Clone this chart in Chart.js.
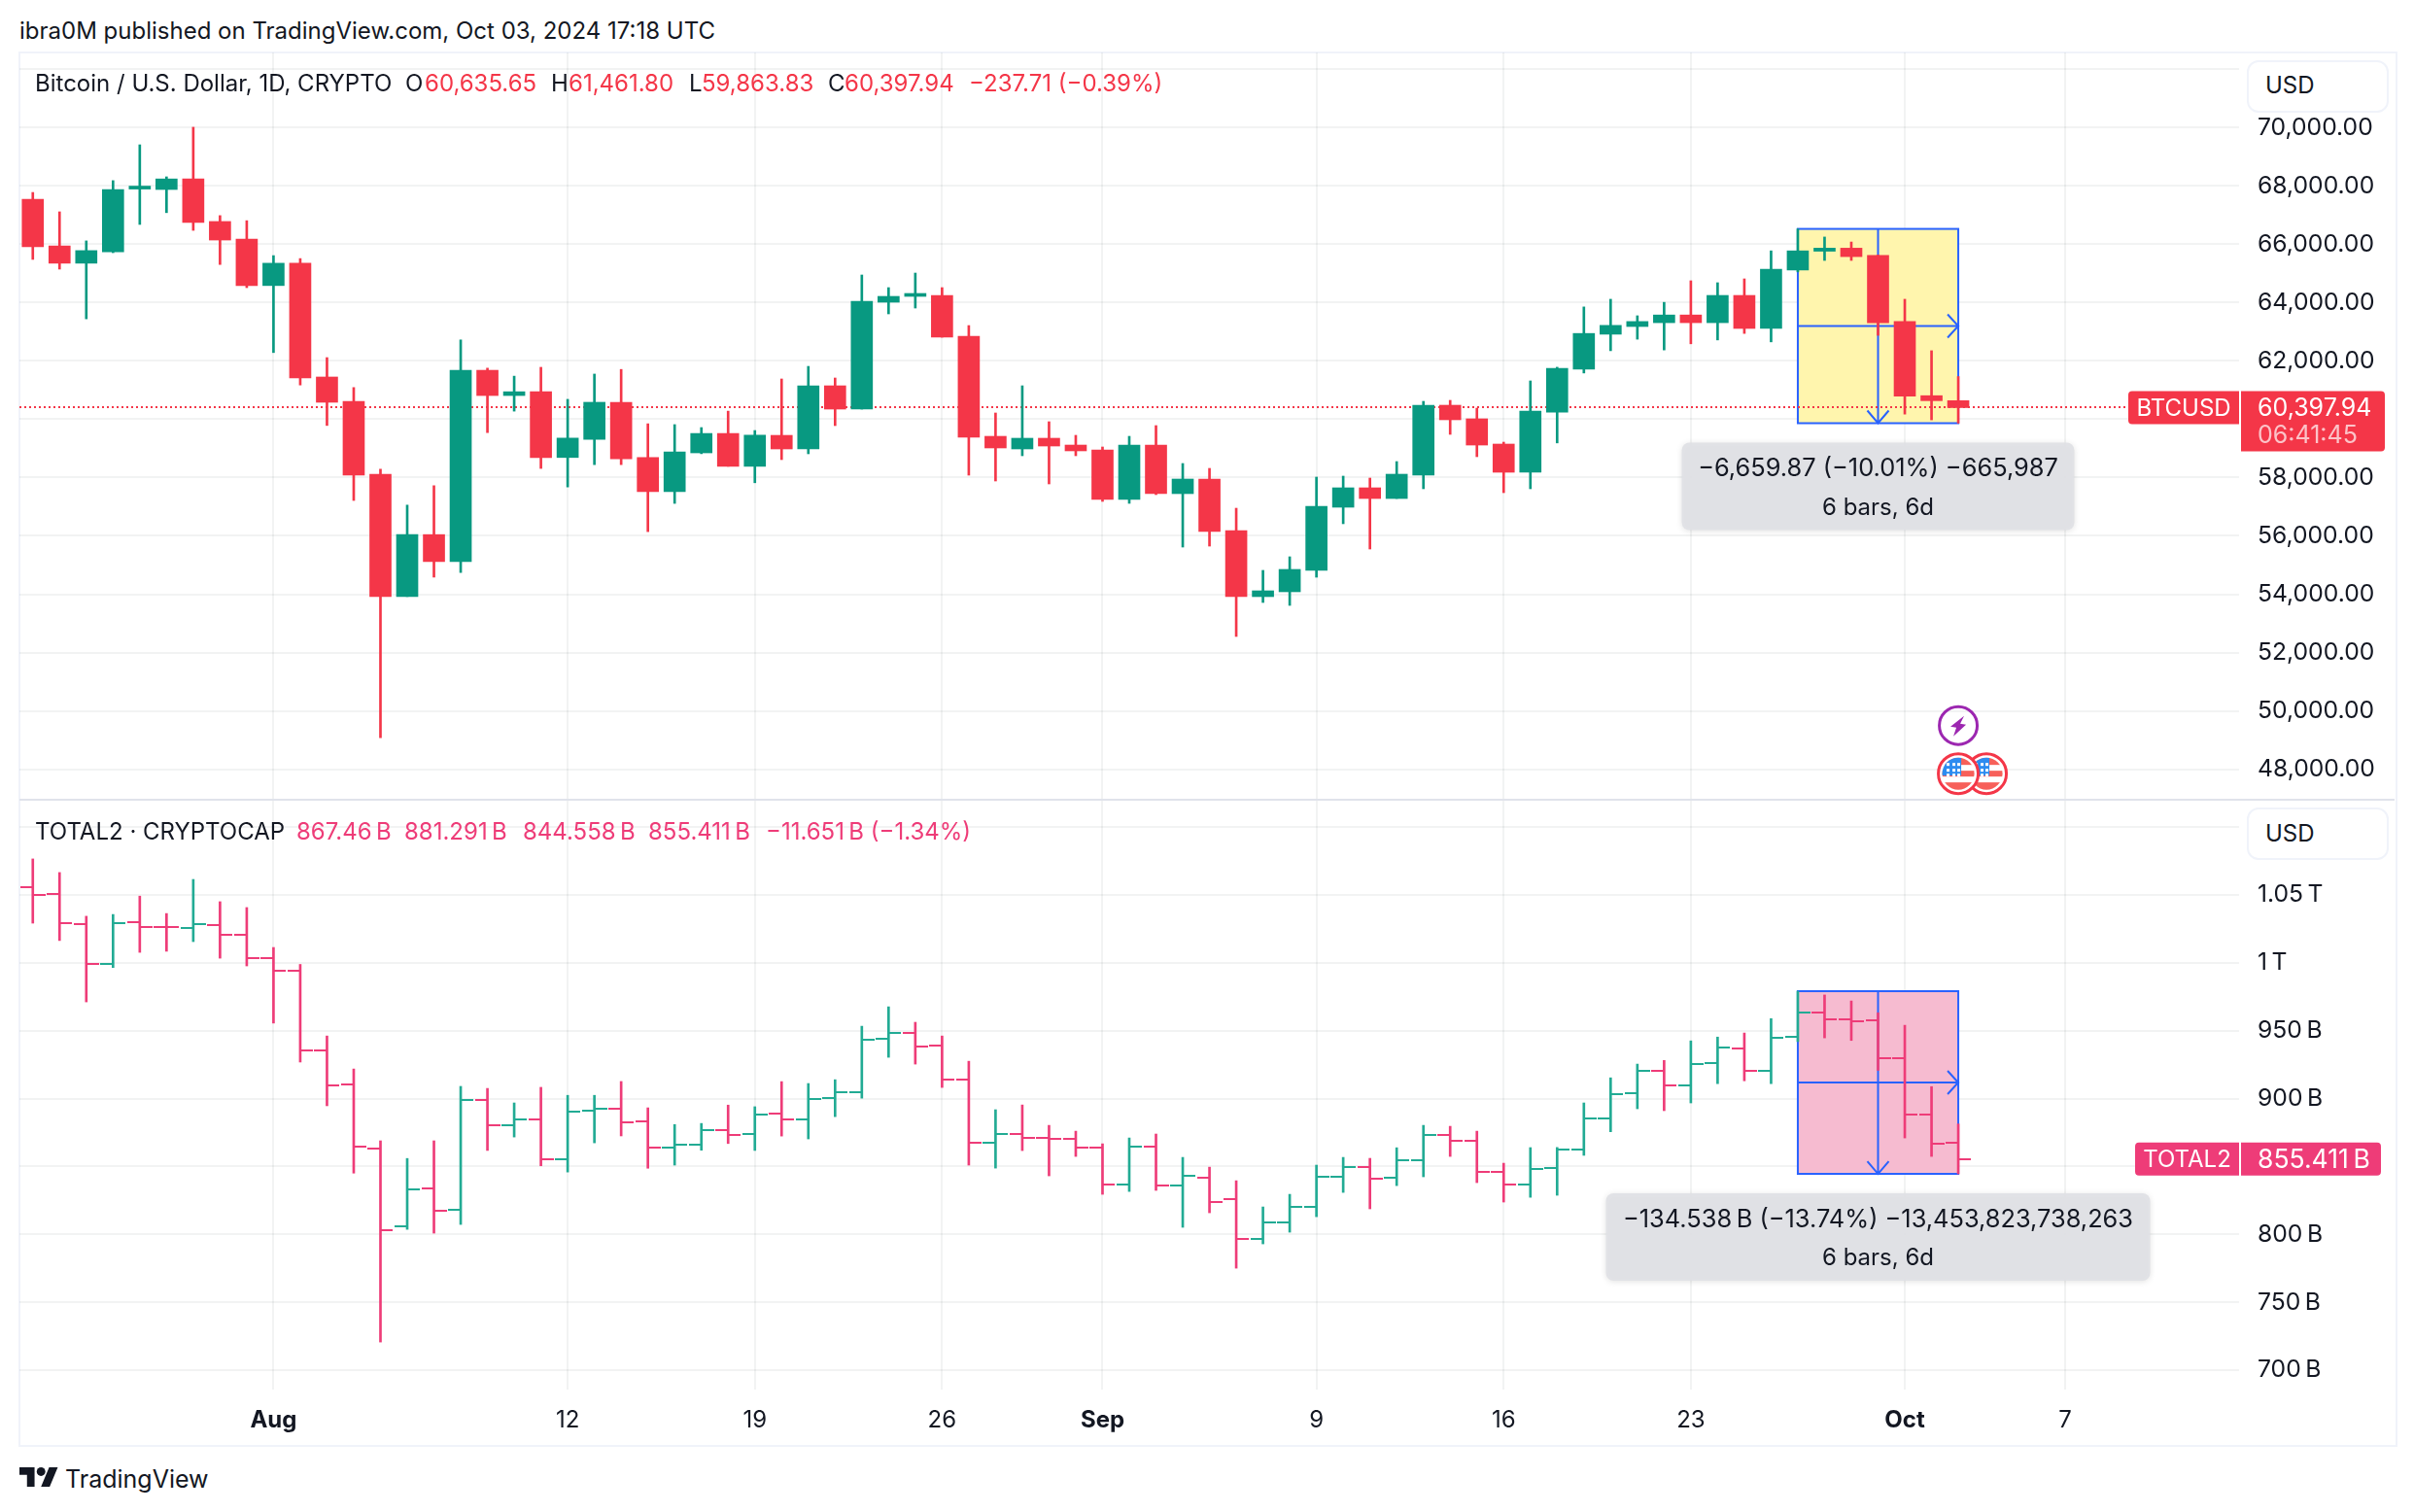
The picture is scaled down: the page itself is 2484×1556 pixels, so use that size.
<!DOCTYPE html>
<html>
<head>
<meta charset="utf-8">
<script src="https://cdn.jsdelivr.net/npm/chart.js@4"></script>
<style>
    html, body { margin: 0; background: #fff; }
    body { width: 2484px; height: 1556px; position: relative; overflow: hidden; font-family: Inter, sans-serif; color: #131722; }
    canvas { position: absolute; left: 20px; }
    #btcChart { top: 54px; }
    #totalChart { top: 823px; }
    #frame { position: absolute; left: 19px; top: 53px; width: 2444px; height: 1432px; border: 2px solid #f0f3fa; }
    #split { position: absolute; left: 20px; top: 822px; width: 2444px; height: 2px; background: #e0e3eb; }
    .t { position: absolute; font-size: 24px; line-height: 30px; white-space: nowrap; transform: translateY(-50%); z-index: 3; }
    .r { color: #f43648; }
    .p { color: #ee3c78; }
    .usd { position: absolute; left: 2312px; width: 142px; height: 50px; border: 2px solid #f0f3fa; border-radius: 12px; box-sizing: content-box; background: #fff; z-index: 2; }
    #logo { position: absolute; left: 20px; top: 1510px; width: 40px; height: 20px; fill: #131722; }
</style>
</head>
<body>
<div id="frame"></div>
<canvas id="btcChart" width="2445" height="769"></canvas>
<canvas id="totalChart" width="2445" height="663"></canvas>
<div id="split"></div>

<div class="t" style="left:20px;top:32px">ibra0M published on TradingView.com, Oct 03, 2024 17:18 UTC</div>

<div class="t" style="left:36px;top:86px">Bitcoin / U.S. Dollar, 1D, CRYPTO</div>
<div class="t" style="left:417px;top:86px">O</div><div class="t r" style="left:437px;top:86px">60,635.65</div>
<div class="t" style="left:567px;top:86px">H</div><div class="t r" style="left:585px;top:86px">61,461.80</div>
<div class="t" style="left:709px;top:86px">L</div><div class="t r" style="left:722px;top:86px">59,863.83</div>
<div class="t" style="left:852px;top:86px">C</div><div class="t r" style="left:869px;top:86px">60,397.94</div>
<div class="t r" style="left:997px;top:86px">−237.71 (−0.39%)</div>

<div class="t" style="left:36px;top:856px">TOTAL2 · CRYPTOCAP</div>
<div class="t p" style="left:305px;top:856px">867.46&thinsp;B</div>
<div class="t p" style="left:416px;top:856px">881.291&thinsp;B</div>
<div class="t p" style="left:538px;top:856px">844.558&thinsp;B</div>
<div class="t p" style="left:667px;top:856px">855.411&thinsp;B</div>
<div class="t p" style="left:788px;top:856px">−11.651&thinsp;B (−1.34%)</div>

<div class="usd" style="top:62px"></div>
<div class="t" style="left:2331px;top:88px">USD</div>
<div class="usd" style="top:831px"></div>
<div class="t" style="left:2331px;top:858px">USD</div>

<svg id="logo" viewBox="0 4 36 18"><path d="M14 22H7V11H0V4h14v18zM28 22h-8l7.5-18h8L28 22z"/><circle cx="20" cy="8" r="4"/></svg>
<div class="t" style="left:67px;top:1522px;font-size:25px">TradingView</div>

<script>
    const days = [
        'Jul 23', 'Jul 24', 'Jul 25', 'Jul 26', 'Jul 27', 'Jul 28', 'Jul 29', 'Jul 30', 'Jul 31',
        'Aug 1', 'Aug 2', 'Aug 3', 'Aug 4', 'Aug 5', 'Aug 6', 'Aug 7', 'Aug 8', 'Aug 9', 'Aug 10',
        'Aug 11', 'Aug 12', 'Aug 13', 'Aug 14', 'Aug 15', 'Aug 16', 'Aug 17', 'Aug 18', 'Aug 19', 'Aug 20',
        'Aug 21', 'Aug 22', 'Aug 23', 'Aug 24', 'Aug 25', 'Aug 26', 'Aug 27', 'Aug 28', 'Aug 29', 'Aug 30', 'Aug 31',
        'Sep 1', 'Sep 2', 'Sep 3', 'Sep 4', 'Sep 5', 'Sep 6', 'Sep 7', 'Sep 8', 'Sep 9', 'Sep 10',
        'Sep 11', 'Sep 12', 'Sep 13', 'Sep 14', 'Sep 15', 'Sep 16', 'Sep 17', 'Sep 18', 'Sep 19', 'Sep 20',
        'Sep 21', 'Sep 22', 'Sep 23', 'Sep 24', 'Sep 25', 'Sep 26', 'Sep 27', 'Sep 28', 'Sep 29', 'Sep 30',
        'Oct 1', 'Oct 2', 'Oct 3', 'Oct 4', 'Oct 5', 'Oct 6', 'Oct 7', 'Oct 8', 'Oct 9', 'Oct 10', 'Oct 11', 'Oct 12', 'Oct 13'
    ];
    const timeTickDays = ['Aug 1', 'Aug 12', 'Aug 19', 'Aug 26', 'Sep 1', 'Sep 9', 'Sep 16', 'Sep 23', 'Oct 1', 'Oct 7'];
    const timeTickLabels = ['Aug', '12', '19', '26', 'Sep', '9', '16', '23', 'Oct', '7'];
    const monthLabels = ['Aug', 'Sep', 'Oct'];

    const btcOpen = [
        67543, 65940, 65348, 65738, 67890, 67875, 68237, 66778, 66171,
        64582, 65348, 61447, 60610, 58111, 53921, 56045, 55120, 61678, 60812,
        60942, 58688, 59309, 60581, 58688, 57518, 58847, 59512, 58385, 59447,
        58981, 61146, 60347, 64011, 64211, 64244, 62845, 59414, 58981, 59348, 59114,
        58948, 57249, 59114, 57449, 57949, 56183, 53918, 54085, 54818, 56983,
        57649, 57282, 58082, 60480, 60014, 59148, 58182, 60241, 61716, 62914,
        63178, 63309, 63573, 63309, 64244, 63112, 65114, 65759, 65864, 65614,
        63349, 60807, 60635.65
    ];
    const btcHigh = [
        67774, 67110, 66113, 68179, 69407, 68309, 70010, 66980, 66806,
        65608, 65507, 62112, 61086, 58284, 57056, 57721, 62719, 61751, 61476,
        61780, 60682, 61548, 61707, 59844, 59815, 59714, 60277, 59613, 61380,
        61812, 61413, 64944, 64511, 65010, 64511, 63211, 60214, 61146, 59914, 59448,
        59048, 59414, 59781, 58482, 58315, 56949, 54818, 55284, 58015, 58049,
        57982, 58548, 60613, 60647, 60380, 59214, 61313, 61782, 63849, 64113,
        63546, 64007, 64745, 64679, 64811, 65772, 66523.7, 66246, 66075, 65627,
        64113, 62348, 61461.8
    ];
    const btcLow = [
        65478, 65145, 63441, 65709, 66677, 67081, 66474, 65304, 64510,
        62285, 61173, 59786, 57215, 49082, 53921, 54586, 54745, 59541, 60277,
        58313, 57677, 58443, 58443, 56146, 57114, 58818, 58385, 57822, 58615,
        58815, 59781, 60347, 63611, 63811, 62812, 58082, 57882, 58748, 57782, 58748,
        57183, 57116, 57416, 55617, 55650, 52553, 53718, 53618, 54584, 56417,
        55550, 57282, 57616, 59481, 58715, 57482, 57616, 59187, 61584, 62348,
        62743, 62374, 62585, 62717, 62940, 62651, 65050, 65443, 65443, 62875,
        60175, 59977, 59863.83
    ];
    const btcClose = [
        65911, 65348, 65781, 67875, 67948, 68237, 66749, 66142, 64582,
        65348, 61419, 60581, 58082, 53921, 56045, 55120, 61678, 60812, 60942,
        58688, 59353, 60581, 58645, 57518, 58876, 59512, 58385, 59454, 58981,
        61146, 60347, 64044, 64211, 64277, 62812, 59381, 59015, 59348, 59081, 58915,
        57249, 59114, 57449, 57949, 56150, 53918, 54118, 54851, 57016, 57649,
        57282, 58115, 60480, 59981, 59114, 58182, 60280, 61742, 62940, 63217,
        63349, 63573, 63309, 64244, 63112, 65140, 65772, 65864, 65574, 63309,
        60794, 60635.65, 60397.94
    ];

    // in billions
    const totalOpen = [
        1055.8, 1050.6, 1028.4, 999.3, 1030.2, 1026.6, 1025.6, 1027.9, 1020.7,
        1003.4, 994.2, 935.4, 910.6, 863.3, 805.8, 833.9, 818.3, 899.1, 880.4,
        884.8, 855.4, 891.2, 892.4, 883.5, 863.8, 866.1, 876.9, 874.0, 889.1,
        884.6, 900.3, 904.6, 944.2, 948.5, 939.2, 913.9, 867.4, 873.9, 871.0, 870.3,
        863.8, 836.6, 864.6, 835.9, 841.7, 826.2, 796.6, 809.0, 820.2, 842.4,
        849.5, 841.7, 854.5, 873.2, 868.9, 845.9, 836.6, 848.9, 862.5, 885.4,
        904.2, 920.5, 909.9, 926.2, 937.1, 920.5, 945.5, 963.5, 958.3, 957.8,
        929.5, 888.1, 867.46
    ];
    const totalHigh = [
        1076.5, 1066.5, 1034.3, 1035.6, 1049.1, 1036.3, 1061.4, 1045.0, 1040.7,
        1011.3, 998.8, 946.1, 921.8, 868.9, 855.9, 868.9, 909.0, 907.5, 896.8,
        908.3, 902.4, 902.4, 912.6, 893.2, 880.9, 881.7, 895.2, 894.0, 912.5,
        911.1, 913.9, 953.3, 967.6, 956.2, 946.1, 927.5, 891.8, 895.3, 880.3, 876.0,
        866.7, 871.0, 873.9, 856.7, 849.5, 839.5, 820.2, 829.5, 851.0, 856.7,
        856.0, 863.8, 880.3, 879.6, 876.0, 852.4, 863.9, 864.0, 896.8, 915.3,
        925.4, 928.1, 942.5, 945.3, 948.3, 958.9, 979.1, 976.3, 971.9, 963.2,
        954.0, 908.8, 881.291
    ];
    const totalLow = [
        1029.2, 1016.4, 971.2, 996.5, 1007.7, 1008.5, 1015.6, 1003.4, 997.7,
        955.6, 926.9, 894.7, 845.1, 720.7, 803.7, 800.9, 807.3, 861.8, 871.7,
        850.5, 845.9, 867.4, 872.5, 848.7, 851.0, 862.0, 866.9, 861.8, 872.4,
        870.3, 886.7, 900.3, 930.4, 925.4, 908.2, 851.0, 848.8, 861.7, 843.1, 857.4,
        829.5, 831.6, 832.4, 805.2, 815.9, 775.1, 793.0, 801.6, 813.0, 830.9,
        818.8, 835.9, 842.4, 857.4, 838.1, 823.8, 827.3, 828.8, 858.2, 875.6,
        892.5, 891.1, 896.8, 911.0, 913.1, 911.0, 942.0, 944.7, 942.8, 920.8,
        871.0, 857.4, 844.558
    ];
    const totalClose = [
        1049.9, 1029.4, 999.3, 1029.2, 1026.6, 1026.5, 1028.4, 1020.7, 1003.4,
        994.2, 935.4, 909.8, 864.8, 803.0, 833.1, 817.3, 899.1, 880.4, 884.8,
        855.4, 890.4, 892.4, 882.5, 863.8, 866.1, 876.9, 873.3, 888.3, 884.6,
        899.6, 904.6, 943.5, 948.5, 938.3, 913.9, 867.4, 873.9, 871.0, 870.3, 863.8,
        836.6, 864.6, 835.9, 843.1, 823.8, 796.6, 809.0, 820.2, 842.4, 849.5,
        840.9, 854.5, 873.2, 868.9, 845.9, 836.6, 848.4, 862.5, 885.4, 903.4,
        920.5, 909.9, 925.7, 937.4, 920.5, 944.7, 963.5, 958.3, 956.7, 929.5,
        888.1, 867.06, 855.411
    ];

    const btcTicks = [48000, 50000, 52000, 54000, 56000, 58000, 60000, 62000, 64000, 66000, 68000, 70000, 72000];
    const totalTicks = [700, 750, 800, 850, 900, 950, 1000, 1050, 1100];

    const GREEN = '#089981';
    const RED = '#f43648';
    const BAR_GREEN = '#22ab94';
    const BAR_PINK = '#ee3c78';
    const BLUE = '#2962ff';
    const GRID = 'rgba(42,46,57,0.06)';
    const TEXT = '#131722';
    const AXIS_FONT = 24.7;

    Chart.defaults.font.family = 'Inter, sans-serif';
    Chart.defaults.font.size = AXIS_FONT;
    Chart.defaults.color = TEXT;
    Chart.defaults.animation = false;

    function scaleOptions(min, max, ticks, label, showTime) {
        return {
            x: {
                grid: { color: GRID, lineWidth: 2, offset: false, drawTicks: false },
                border: { display: false },
                afterBuildTicks: (scale) => {
                    scale.ticks = timeTickDays.map((day) => ({ value: days.indexOf(day) }));
                },
                afterFit: (scale) => {
                    scale.height = showTime ? 56 : 0;
                    scale.paddingLeft = 0;
                    scale.paddingRight = 0;
                },
                ticks: {
                    display: showTime,
                    autoSkip: false,
                    maxRotation: 0,
                    padding: 17,
                    callback: (value, index) => timeTickLabels[index],
                    font: (ctx) => ({
                        size: 24,
                        weight: monthLabels.includes(timeTickLabels[ctx.index]) ? 'bold' : 'normal'
                    })
                }
            },
            y: {
                position: 'right',
                min: min,
                max: max,
                grid: { color: GRID, lineWidth: 2, drawTicks: false },
                border: { display: false },
                afterBuildTicks: (scale) => {
                    scale.ticks = ticks.map((value) => ({ value }));
                },
                afterFit: (scale) => {
                    scale.width = 161;
                    scale.paddingTop = 0;
                    scale.paddingBottom = 0;
                },
                ticks: { padding: 19, callback: label }
            }
        };
    }

    // measure box, its cross with arrows, the grey text box
    function drawMeasureBox(chart, m) {
        const { ctx, scales: { x, y } } = chart;
        const left = x.getPixelForValue(days.indexOf(m.from));
        const right = x.getPixelForValue(days.indexOf(m.to));
        const top = y.getPixelForValue(m.top);
        const bottom = y.getPixelForValue(m.bottom);
        const midX = (left + right) / 2;
        const midY = (top + bottom) / 2;

        ctx.save();
        ctx.fillStyle = m.fill;
        ctx.fillRect(left, top, right - left, bottom - top);
        ctx.strokeStyle = BLUE;
        ctx.lineWidth = 2;
        ctx.strokeRect(left, top, right - left, bottom - top);
        ctx.beginPath();
        ctx.moveTo(left, midY);
        ctx.lineTo(right, midY);
        ctx.moveTo(midX, top);
        ctx.lineTo(midX, bottom);
        ctx.moveTo(right - 11, midY - 12);
        ctx.lineTo(right, midY);
        ctx.lineTo(right - 11, midY + 12);
        ctx.moveTo(midX - 11, bottom - 13);
        ctx.lineTo(midX, bottom);
        ctx.lineTo(midX + 11, bottom - 13);
        ctx.stroke();
        ctx.restore();
    }

    function drawMeasureText(chart, m) {
        const { ctx, scales: { x, y } } = chart;
        const midX = (x.getPixelForValue(days.indexOf(m.from)) + x.getPixelForValue(days.indexOf(m.to))) / 2;
        const boxTop = y.getPixelForValue(m.bottom) + 20;

        ctx.save();
        ctx.shadowColor = 'rgba(0,0,0,0.12)';
        ctx.shadowBlur = 6;
        ctx.shadowOffsetY = 1;
        ctx.fillStyle = 'rgba(224,225,229,0.96)';
        ctx.beginPath();
        ctx.roundRect(midX - m.boxWidth / 2, boxTop, m.boxWidth, 90, 8);
        ctx.fill();
        ctx.restore();

        ctx.save();
        ctx.fillStyle = TEXT;
        ctx.textAlign = 'center';
        ctx.textBaseline = 'middle';
        ctx.font = '25.4px Inter, sans-serif';
        ctx.fillText(m.line1, midX, boxTop + 27);
        ctx.font = '24px Inter, sans-serif';
        ctx.fillText(m.line2, midX, boxTop + 67);
        ctx.restore();
    }

    function drawTags(chart, tag) {
        const { ctx, chartArea, scales: { y } } = chart;
        const py = y.getPixelForValue(tag.value);
        const axisX = chartArea.right;

        ctx.save();
        ctx.fillStyle = tag.color;
        ctx.beginPath();
        ctx.roundRect(axisX - tag.nameWidth, py - 17, tag.nameWidth, 34, [4, 0, 0, 4]);
        ctx.fill();
        ctx.beginPath();
        ctx.roundRect(axisX + 2, py - 17, tag.valueWidth, tag.timer ? 62 : 34, [0, 4, 4, 0]);
        ctx.fill();

        ctx.textBaseline = 'middle';
        ctx.font = '24px Inter, sans-serif';
        ctx.fillStyle = '#fff';
        ctx.textAlign = 'center';
        ctx.fillText(tag.name, axisX - tag.nameWidth / 2, py + 1);
        ctx.textAlign = 'left';
        ctx.font = `${tag.fontSize}px Inter, sans-serif`;
        ctx.fillText(tag.label, axisX + 19, py + 1);
        if (tag.timer) {
            ctx.fillStyle = 'rgba(255,255,255,0.7)';
            ctx.fillText(tag.timer, axisX + 19, py + 29);
        }
        ctx.restore();
    }

    function drawFlag(ctx, cx, cy) {
        ctx.save();
        ctx.beginPath();
        ctx.arc(cx, cy, 20.5, 0, Math.PI * 2);
        ctx.fillStyle = '#fff';
        ctx.fill();
        ctx.strokeStyle = RED;
        ctx.lineWidth = 3;
        ctx.stroke();
        ctx.beginPath();
        ctx.arc(cx, cy, 16.5, 0, Math.PI * 2);
        ctx.clip();
        ctx.fillStyle = '#f7605a';
        ctx.fillRect(cx - 17, cy - 17, 34, 8);
        ctx.fillRect(cx - 17, cy - 3, 34, 6);
        ctx.fillRect(cx - 17, cy + 9, 34, 8);
        ctx.fillStyle = '#2d8cf0';
        ctx.fillRect(cx - 17, cy - 17, 20, 19);
        ctx.fillStyle = '#fff';
        [-10, -4, 1].forEach((sy) => {
            [-11, -5, 0].forEach((sx) => {
                ctx.fillRect(cx + sx - 1, cy + sy - 1, 3, 3);
            });
        });
        ctx.restore();
    }

    function drawEvents(chart) {
        const { ctx, scales: { x, y } } = chart;
        const cx = x.getPixelForValue(days.indexOf('Oct 3'));
        const boltY = y.getPixelForValue(49500);
        const flagY = y.getPixelForValue(47850);

        drawFlag(ctx, cx + 29, flagY);
        drawFlag(ctx, cx, flagY);

        ctx.save();
        ctx.strokeStyle = '#9c27b0';
        ctx.fillStyle = '#9c27b0';
        ctx.lineWidth = 3;
        ctx.beginPath();
        ctx.arc(cx, boltY, 19.5, 0, Math.PI * 2);
        ctx.stroke();
        ctx.beginPath();
        ctx.moveTo(cx + 6, boltY - 10);
        ctx.lineTo(cx - 8, boltY + 1);
        ctx.lineTo(cx - 2, boltY + 2);
        ctx.lineTo(cx - 5, boltY + 11);
        ctx.lineTo(cx + 8, boltY - 1);
        ctx.lineTo(cx + 2, boltY - 2);
        ctx.closePath();
        ctx.fill();
        ctx.restore();
    }

    function drawPriceLine(chart, value) {
        const { ctx, chartArea, scales: { y } } = chart;
        const py = Math.round(y.getPixelForValue(value));
        ctx.save();
        ctx.strokeStyle = RED;
        ctx.lineWidth = 2;
        ctx.setLineDash([2, 3]);
        ctx.beginPath();
        ctx.moveTo(chartArea.left, py);
        ctx.lineTo(chartArea.right, py);
        ctx.stroke();
        ctx.restore();
    }

    function tickMark(color, side) {
        const c = document.createElement('canvas');
        c.width = 26;
        c.height = 2;
        const g = c.getContext('2d');
        g.fillStyle = color;
        g.fillRect(side === 'left' ? 0 : 13, 0, 13, 2);
        return c;
    }

    const btcColors = btcClose.map((c, i) => (c >= btcOpen[i] ? GREEN : RED));
    const totalColors = totalClose.map((c, i) => (c >= totalOpen[i] ? BAR_GREEN : BAR_PINK));
    const openMarks = { [BAR_GREEN]: tickMark(BAR_GREEN, 'left'), [BAR_PINK]: tickMark(BAR_PINK, 'left') };
    const closeMarks = { [BAR_GREEN]: tickMark(BAR_GREEN, 'right'), [BAR_PINK]: tickMark(BAR_PINK, 'right') };

    const btcMeasure = {
        from: 'Sep 27', to: 'Oct 3', top: 66523.7, bottom: 59863.83, fill: '#fff5ad', boxWidth: 404,
        line1: '−6,659.87 (−10.01%) −665,987', line2: '6 bars, 6d'
    };
    const totalMeasure = {
        from: 'Sep 27', to: 'Oct 3', top: 979.096, bottom: 844.558, fill: '#f6bbd0', boxWidth: 560,
        line1: '−134.538\u2009B (−13.74%) −13,453,823,738,263', line2: '6 bars, 6d'
    };

    new Chart(document.getElementById('btcChart'), {
        type: 'bar',
        data: {
            labels: days,
            datasets: [
                {
                    data: btcLow.map((low, i) => [low, btcHigh[i]]),
                    backgroundColor: btcColors,
                    barThickness: 2,
                    grouped: false,
                    order: 2
                },
                {
                    data: btcOpen.map((open, i) => [open, btcClose[i]]),
                    backgroundColor: btcColors,
                    barThickness: 22,
                    minBarLength: 3,
                    grouped: false,
                    order: 1
                }
            ]
        },
        options: {
            responsive: false,
            devicePixelRatio: 1,
            events: [],
            layout: { padding: 0, autoPadding: false },
            plugins: { legend: { display: false }, tooltip: { enabled: false } },
            scales: scaleOptions(46956, 72572, btcTicks, (value) => (
                value === 72000 ? '' : value.toLocaleString('en-US', { minimumFractionDigits: 2 })
            ), false)
        },
        plugins: [{
            id: 'btcDrawings',
            beforeDatasetsDraw(chart) {
                drawMeasureBox(chart, btcMeasure);
                drawPriceLine(chart, btcClose[btcClose.length - 1]);
            },
            afterDraw(chart) {
                drawMeasureText(chart, btcMeasure);
                drawTags(chart, {
                    value: btcClose[btcClose.length - 1], color: RED, name: 'BTCUSD', nameWidth: 114,
                    valueWidth: 148, label: '60,397.94', timer: '06:41:45', fontSize: 25
                });
                drawEvents(chart);
            }
        }]
    });

    new Chart(document.getElementById('totalChart'), {
        type: 'bar',
        data: {
            labels: days,
            datasets: [
                {
                    data: totalLow.map((low, i) => [low, totalHigh[i]]),
                    backgroundColor: totalColors,
                    barThickness: 2,
                    grouped: false
                },
                {
                    type: 'line',
                    data: totalOpen,
                    showLine: false,
                    pointRadius: 1,
                    pointStyle: (ctx) => openMarks[totalColors[ctx.dataIndex]] || false
                },
                {
                    type: 'line',
                    data: totalClose,
                    showLine: false,
                    pointRadius: 1,
                    pointStyle: (ctx) => closeMarks[totalColors[ctx.dataIndex]] || false
                }
            ]
        },
        options: {
            responsive: false,
            devicePixelRatio: 1,
            events: [],
            layout: { padding: 0, autoPadding: false },
            plugins: { legend: { display: false }, tooltip: { enabled: false } },
            scales: scaleOptions(685.7, 1120.1, totalTicks, (value) => {
                if (value === 1100) return '';
                return value >= 1000 ? `${value / 1000}\u2009T` : `${value}\u2009B`;
            }, true)
        },
        plugins: [{
            id: 'totalDrawings',
            beforeDatasetsDraw(chart) {
                drawMeasureBox(chart, totalMeasure);
            },
            afterDraw(chart) {
                drawMeasureText(chart, totalMeasure);
                drawTags(chart, {
                    value: totalClose[totalClose.length - 1], color: BAR_PINK, name: 'TOTAL2', nameWidth: 107,
                    valueWidth: 144, label: '855.411\u2009B', fontSize: 26.5
                });
            }
        }]
    });
</script>
</body>
</html>
